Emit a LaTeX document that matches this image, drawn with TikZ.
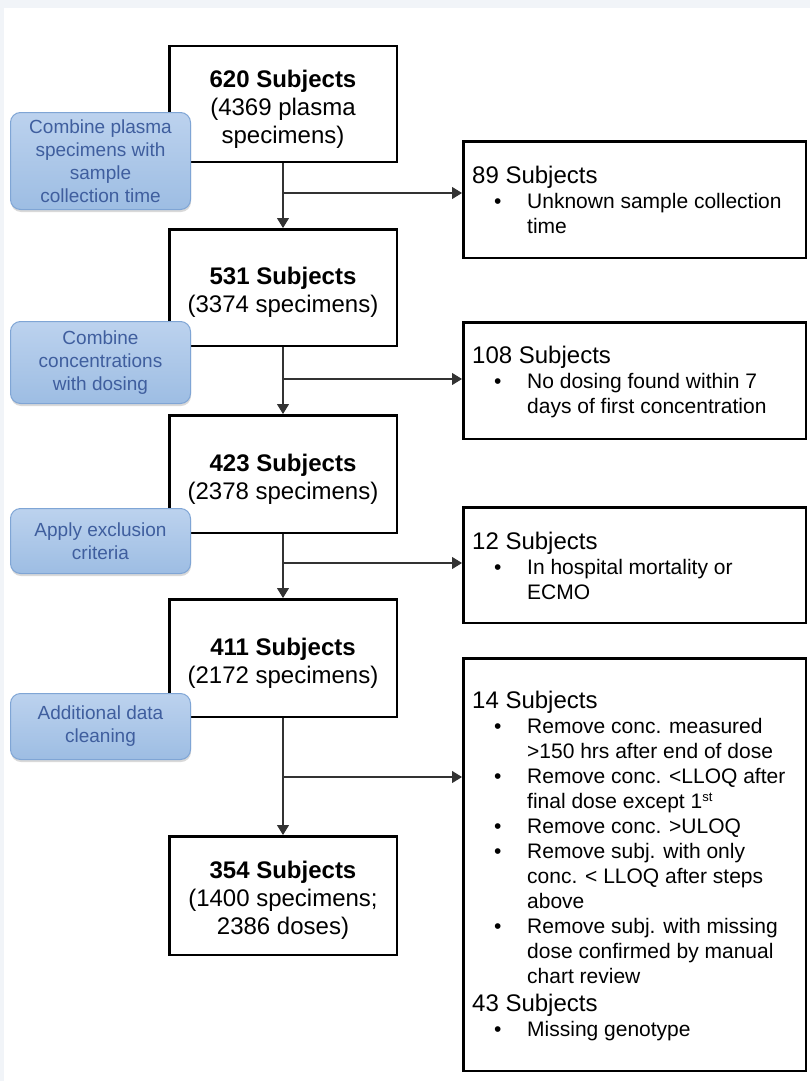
\documentclass[tikz,border=0pt]{standalone}
\usepackage{fontspec}
\setmainfont{Liberation Sans}
\usetikzlibrary{arrows.meta,shadows}
\definecolor{bluefillT}{HTML}{BCD2EE}
\definecolor{bluefillB}{HTML}{9DBDE3}
\definecolor{blueedge}{HTML}{7FA5D5}
\definecolor{bluetext}{HTML}{3F5E9E}
\definecolor{connc}{HTML}{333333}
\definecolor{bgtint}{HTML}{F1F4F8}
\newcommand\hdrline[1]{\noindent\fontsize{24}{25}\selectfont #1\par\fontsize{21}{25}\selectfont}
\newcommand\bitem[1]{\par\noindent\hangindent=55pt\hangafter=1\hspace*{22pt}\makebox[33pt][l]{•}#1}
\newcommand\topstrut{\rule{0pt}{27pt}}
\begin{document}
\begin{tikzpicture}[x=1pt,y=-1pt,
  mainbox/.style={draw=black, line width=2.5pt, fill=white, minimum width=227.5pt,
    align=center, inner sep=0pt, font=\fontsize{24}{28}\selectfont},
  sidebox/.style={draw=black, line width=2.5pt, fill=white, minimum width=342.5pt, inner sep=0pt},
  note/.style={rounded corners=10pt, draw=blueedge, line width=1pt, top color=bluefillT,
    bottom color=bluefillB, text=bluetext, align=center, minimum width=180pt, inner sep=0pt,
    font=\fontsize{19}{23}\selectfont,
    drop shadow={shadow xshift=0.5pt, shadow yshift=-2.5pt, opacity=0.3, fill=gray}},
  conn/.style={draw=connc, line width=1.1pt, -{Triangle[length=10pt,width=12pt]}},
  sidetext/.style={anchor=base west, inner sep=0pt}
]
\useasboundingbox (0,0) rectangle (810,1081);
\fill[bgtint] (0,0) rectangle (810,8);
\fill[bgtint] (0,0) rectangle (4,1081);

% main column
\node[mainbox, minimum height=115.5pt] (b1) at (283,104) {\topstrut\textbf{620 Subjects}\\(4369 plasma\\specimens)};
\node[mainbox, minimum height=116.5pt] (b2) at (283,287.5) {\topstrut\textbf{531 Subjects}\\(3374 specimens)};
\node[mainbox, minimum height=117.5pt] (b3) at (283,474) {\topstrut\textbf{423 Subjects}\\(2378 specimens)};
\node[mainbox, minimum height=117.5pt] (b4) at (283,658) {\topstrut\textbf{411 Subjects}\\(2172 specimens)};
\node[mainbox, minimum height=118.5pt] (b5) at (283,895.5) {\topstrut\textbf{354 Subjects}\\(1400 specimens;\\2386 doses)};

% side boxes
\node[sidebox, minimum height=116.5pt] (r1) at (634.5,199.5) {};
\node[sidebox, minimum height=116.5pt] (r2) at (634.5,380.5) {};
\node[sidebox, minimum height=115.5pt] (r3) at (634.5,565) {};
\node[sidebox, minimum height=412.5pt] (r4) at (634.5,864.5) {};

\node[sidetext] (r1t) at (472,183) {\parbox[t]{330pt}{\hdrline{89 Subjects}%
\bitem{Unknown sample collection\\time}}};
\node[sidetext] (r2t) at (472,363) {\parbox[t]{330pt}{\hdrline{108 Subjects}%
\bitem{No dosing found within 7\\days of first concentration}}};
\node[sidetext] (r3t) at (472,549) {\parbox[t]{330pt}{\hdrline{12 Subjects}%
\bitem{In hospital mortality or\\ECMO}}};
\node[sidetext] (r4t) at (472,708) {\parbox[t]{330pt}{\hdrline{14 Subjects}%
\bitem{Remove conc. measured\\>150 hrs after end of dose}%
\bitem{Remove conc. <LLOQ after\\final dose except 1{\fontsize{13}{13}\selectfont\raisebox{7pt}{st}}}%
\bitem{Remove conc. >ULOQ}%
\bitem{Remove subj. with only\\conc. < LLOQ after steps\\above}%
\bitem{Remove subj. with missing\\dose confirmed by manual\\chart review}\par
\vspace{3pt}\hdrline{43 Subjects}%
\bitem{Missing genotype}}};

% notes
\node[note, minimum height=97pt] (n1) at (100.5,161) {Combine plasma\\specimens with\\sample\\collection time};
\node[note, minimum height=82pt] (n2) at (100.5,362.5) {Combine\\concentrations\\with dosing};
\node[note, minimum height=65pt] (n3) at (100.5,541) {Apply exclusion\\criteria};
\node[note, minimum height=66pt] (n4) at (100.5,726.5) {Additional data\\cleaning};

% connectors
\coordinate (j1) at (283,193);
\coordinate (j2) at (283,379);
\coordinate (j3) at (283,563);
\coordinate (j4) at (283,777);
\draw[conn] (b1.south) -- (b2.north);
\draw[conn] (b2.south) -- (b3.north);
\draw[conn] (b3.south) -- (b4.north);
\draw[conn] (b4.south) -- (b5.north);
\draw[conn] (j1) -- (j1 -| r1.west);
\draw[conn] (j2) -- (j2 -| r2.west);
\draw[conn] (j3) -- (j3 -| r3.west);
\draw[conn] (j4) -- (j4 -| r4.west);
\end{tikzpicture}
\end{document}
